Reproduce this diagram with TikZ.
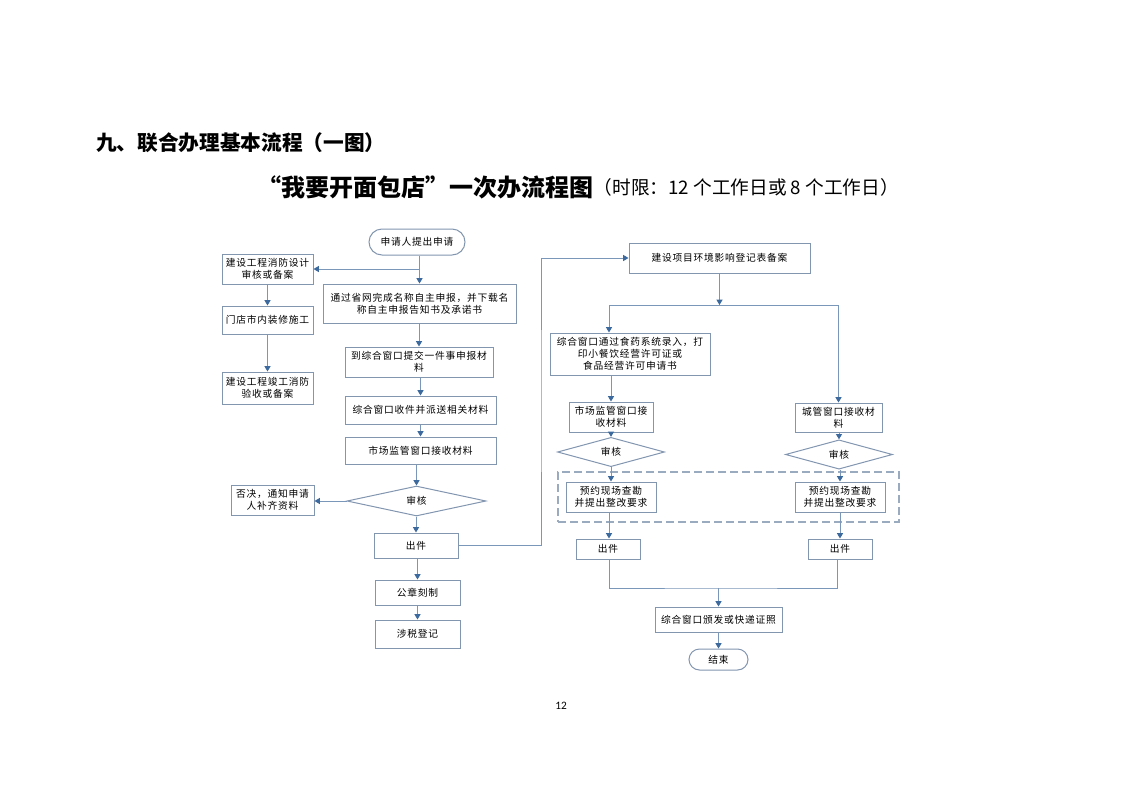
\documentclass[tikz,border=0pt]{standalone}
\usepackage{fontspec}
\setmainfont{Noto Sans CJK SC}
\newfontfamily\boxfont{Noto Sans CJK SC}[LetterSpace=8]
\newfontfamily\pagefont{Carlito}
\usetikzlibrary{arrows.meta,shapes.geometric}
\definecolor{lnc}{HTML}{7A96B8}
\definecolor{bdc}{HTML}{8296B0}
\definecolor{tipc}{HTML}{3D6A9E}
\definecolor{dashc}{HTML}{9AAABF}
\begin{document}
\begin{tikzpicture}[x=0.75pt,y=-0.75pt,
  box/.style={draw=bdc, line width=0.75pt, inner sep=0pt, align=center,
    font=\boxfont\fontsize{7.3}{9.2}\selectfont},
  sz/.style 2 args={minimum width=#1*0.75pt, minimum height=#2*0.75pt},
  wire/.style={draw=lnc, line width=0.75pt},
  arr/.style={wire, -{Triangle[width=4.5pt,length=4pt,color=tipc,fill=tipc]}}]
\fill[white] (0,0) rectangle (1122,793);
\useasboundingbox (0,0) rectangle (1122,793);

% titles
\node[anchor=west, inner sep=0pt, font=\bfseries\fontsize{15.5}{18}\selectfont] (t1) at (96,143) {九、联合办理基本流程（一图）};
\node[anchor=west, inner sep=0pt, font=\bfseries\fontsize{18}{22}\selectfont] (t2) at (257,187) {“我要开面包店”一次办流程图};
\node[anchor=west, inner sep=0pt, font=\fontsize{14}{16}\selectfont] (t3) at ([yshift=-0.5pt]t2.east) {（时限：12 个工作日或 8 个工作日）};

% group frame
\node[draw=dashc, line width=0.9pt, dash pattern=on 6pt off 3pt, sz={341}{50}] (grp) at (728.5,497) {};

% left column
\node[box, sz={96}{26}, rounded corners=9.75pt] (start) at (417,242) {申请人提出申请};
\node[box, sz={91}{30}] (fire1) at (267.5,269) {建设工程消防设计\\审核或备案};
\node[box, sz={193}{39}] (name) at (419.5,303.5) {通过省网完成名称自主申报，并下载名\\称自主申报告知书及承诺书};
\node[box, sz={91}{28}] (decor) at (267.5,320) {门店市内装修施工};
\node[box, sz={91}{32}] (fire2) at (267.5,388) {建设工程竣工消防\\验收或备案};
\node[box, sz={148}{30}] (submit) at (419,362) {到综合窗口提交一件事申报材\\料};
\node[box, sz={151}{28}] (recv) at (420.5,410) {综合窗口收件并派送相关材料};
\node[box, sz={151}{27}] (market) at (420.5,450.5) {市场监管窗口接收材料};
\node[box, diamond, sz={139}{30}] (review) at (416.5,501) {审核};
\node[box, sz={83}{30}] (reject) at (272.5,500) {否决，通知申请\\人补齐资料};
\node[box, sz={84}{25}] (out) at (416,545.5) {出件};
\node[box, sz={85}{25}] (seal) at (417.5,592.5) {公章刻制};
\node[box, sz={85}{28}] (tax) at (417.5,634) {涉税登记};

% right part
\node[box, sz={181}{30}] (env) at (719.5,258) {建设项目环境影响登记表备案};
\node[box, sz={160}{42}] (food) at (630,354) {综合窗口通过食药系统录入，打\\印小餐饮经营许可证或\\食品经营许可申请书};
\node[box, sz={84}{30}] (smk) at (611,417) {市场监管窗口接\\收材料};
\node[box, sz={87}{29}] (cg) at (838.5,417.5) {城管窗口接收材\\料};
\node[box, diamond, sz={107}{22}] (revL) at (611,452) {审核};
\node[box, diamond, sz={107}{21}] (revR) at (839,454.5) {审核};
\node[box, sz={90}{30}] (yyL) at (611,497) {预约现场查勘\\并提出整改要求};
\node[box, sz={90}{30}] (yyR) at (840,497) {预约现场查勘\\并提出整改要求};
\node[box, sz={64}{20}] (outL) at (608,549) {出件};
\node[box, sz={64}{20}] (outR) at (840,549) {出件};
\node[box, sz={127}{25}] (issue) at (718.5,619.5) {综合窗口颁发或快递证照};
\node[box, sz={59}{21}, rounded corners=7.875pt] (end) at (718.5,659.5) {结束};

\node[inner sep=0pt, font=\pagefont\fontsize{8.5}{10}\selectfont] (pg) at (561,706) {12};

% left connectors
\coordinate (br1) at (name.north |- fire1.east);
\draw[arr] (start.south -| name.north) -- (name.north);
\draw[arr] (br1) -- (fire1.east);
\draw[arr] (fire1) -- (decor);
\draw[arr] (decor) -- (fire2);
\draw[arr] (name.south -| submit.north) -- (submit.north);
\draw[arr] (submit.south -| recv.north) -- (recv.north);
\draw[arr] (recv) -- (market);
\draw[arr] (market.south -| review.north) -- (review.north);
\draw[arr] (review.west) -- (review.west -| reject.east);
\draw[arr] (review.south -| out.north) -- (out.north);
\draw[arr] (out.south -| seal.north) -- (seal.north);
\draw[arr] (seal) -- (tax);
\coordinate (c1) at (541,400);
\draw[arr] (out.east) -| (c1) |- (env.west);

% right connectors
\coordinate (j0) at (719.5,305);
\coordinate (jl) at (609,305);
\coordinate (jr) at (838.5,305);
\draw[wire] (jl) -- (jr);
\draw[arr] (env.south) -- (j0);
\draw[arr] (jl) -- (jl |- food.north);
\draw[arr] (jr) -- (cg.north);
\draw[arr] (food.south -| smk.north) -- (smk.north);
\draw[arr] (smk) -- (revL);
\draw[arr] (revL) -- (yyL);
\draw[arr] (yyL.south -| 609,0) -- (outL.north -| 609,0);
\draw[arr] (cg.south -| revR.north) -- (revR.north);
\draw[arr] (revR.south -| yyR.north) -- (yyR.north);
\draw[arr] (yyR) -- (outR);
\coordinate (mrg) at (718.5,588);
\draw[wire] (outL.south -| 609,0) |- (mrg) -| (outR.south -| 837,0);
\draw[arr] (mrg) -- (issue.north);
\draw[arr] (issue) -- (end);
\end{tikzpicture}
\end{document}
